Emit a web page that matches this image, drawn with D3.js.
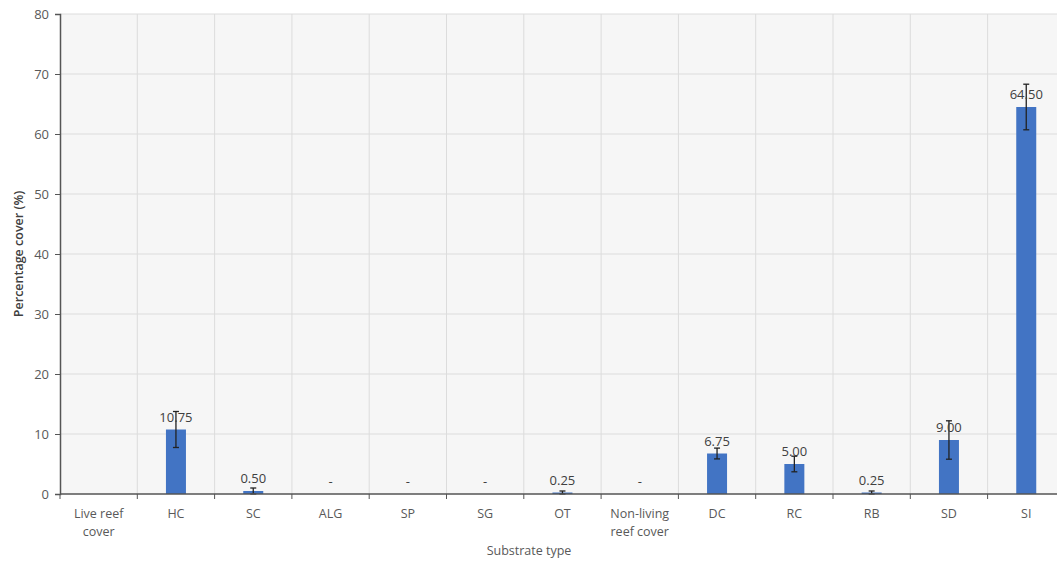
<!DOCTYPE html>
<html><head><meta charset="utf-8">
<script src="https://cdn.jsdelivr.net/npm/d3@7"></script>
<style>body{margin:0;background:#fff;} text{font-family:"Open Sans",sans-serif;}</style>
</head><body><svg id="c" width="1057" height="563"></svg>
<script>
const categories = ["Live reef cover","HC","SC","ALG","SP","SG","OT","Non-living reef cover","DC","RC","RB","SD","SI"];
const values = [null,10.75,0.50,0,0,0,0.25,0,6.75,5.00,0.25,9.00,64.50];
const errors = [null,3.0,0.5,0,0,0,0.25,0,0.9,1.3,0.25,3.2,3.8];
const labelLines = [["Live reef","cover"],["HC"],["SC"],["ALG"],["SP"],["SG"],["OT"],["Non-living","reef cover"],["DC"],["RC"],["RB"],["SD"],["SI"]];
const yTicks = [0,10,20,30,40,50,60,70,80];

(function(){
const svg = d3.select("#c");
const mLeft = 60, mTop = 14, mBottom = 494, bandW = 77.3;
const mRight = mLeft + bandW * categories.length;
const x = d3.scaleBand().domain(categories).range([mLeft, mRight]).paddingInner(0).paddingOuter(0);
const y = d3.scaleLinear().domain([0,80]).range([mBottom, mTop]);

svg.append("rect").attr("x", mLeft).attr("y", mTop).attr("width", mRight-mLeft).attr("height", mBottom-mTop).attr("fill","#f6f6f6");

svg.append("g").selectAll("line").data(yTicks.slice(1)).join("line")
  .attr("x1", mLeft).attr("x2", mRight).attr("y1", d=>y(d)).attr("y2", d=>y(d))
  .attr("stroke","#dcdcdc").attr("stroke-width",1);
svg.append("g").selectAll("line").data(categories.slice(1)).join("line")
  .attr("x1", d=>x(d)).attr("x2", d=>x(d)).attr("y1", mTop).attr("y2", mBottom)
  .attr("stroke","#dcdcdc").attr("stroke-width",1);

const bw = 20;
const data = categories.map((c,i)=>({c, v: values[i], e: errors[i]}));
svg.append("g").selectAll("rect").data(data.filter(d=>d.v!==null && d.v>0)).join("rect")
  .attr("x", d=>x(d.c)+x.bandwidth()/2-bw/2).attr("width", bw)
  .attr("y", d=>y(d.v)).attr("height", d=>y(0)-y(d.v)).attr("fill","#4274c4");

const eb = svg.append("g").attr("stroke","#222").attr("stroke-width",1.3);
data.filter(d=>d.v!==null && d.e>0).forEach(d=>{
  const cx = x(d.c)+x.bandwidth()/2;
  const lo = Math.max(d.v-d.e,0), hi = d.v+d.e;
  eb.append("line").attr("x1",cx).attr("x2",cx).attr("y1",y(hi)).attr("y2",y(lo));
  eb.append("line").attr("x1",cx-3).attr("x2",cx+3).attr("y1",y(hi)).attr("y2",y(hi));
  eb.append("line").attr("x1",cx-3).attr("x2",cx+3).attr("y1",y(lo)).attr("y2",y(lo));
});

svg.append("g").selectAll("text").data(data.filter(d=>d.v!==null)).join("text")
  .attr("x", d=>x(d.c)+x.bandwidth()/2).attr("y", d=>y(d.v)-8)
  .attr("text-anchor","middle").attr("font-size",13).attr("fill","#404040")
  .text(d=>d.v>0 ? d.v.toFixed(2) : "-");

const yAxis = d3.axisLeft(y).tickValues(yTicks).tickSize(5).tickPadding(6);
const gy = svg.append("g").attr("transform",`translate(${mLeft},0)`).call(yAxis);
gy.select(".domain").attr("stroke","#555").attr("stroke-width",1.5);
gy.selectAll(".tick line").attr("stroke","#555");
gy.selectAll(".tick text").attr("font-size",13).attr("fill","#595959").attr("font-family","Open Sans");

svg.append("line").attr("x1",mLeft).attr("x2",mRight).attr("y1",mBottom).attr("y2",mBottom).attr("stroke","#555").attr("stroke-width",1.5);
svg.append("g").selectAll("line").data(categories).join("line")
  .attr("x1", d=>x(d)).attr("x2", d=>x(d)).attr("y1", mBottom).attr("y2", mBottom+5).attr("stroke","#555");

const xl = svg.append("g").selectAll("text").data(categories).join("text")
  .attr("x", d=>x(d)+x.bandwidth()/2).attr("y", 518)
  .attr("text-anchor","middle").attr("font-size",12.5).attr("fill","#595959");
xl.each(function(d,i){
  const t = d3.select(this);
  labelLines[i].forEach((l,j)=>t.append("tspan").attr("x", x(d)+x.bandwidth()/2).attr("dy", j===0?0:18).text(l));
});

svg.append("text").attr("x", 529).attr("y", 555).attr("text-anchor","middle").attr("font-size",12.5).attr("fill","#595959").text("Substrate type");
svg.append("text").attr("transform","translate(23,254) rotate(-90)").attr("text-anchor","middle").attr("font-size",12.5).attr("fill","#404040").attr("font-weight","600").text("Percentage cover (%)");
})();
</script></body></html>
